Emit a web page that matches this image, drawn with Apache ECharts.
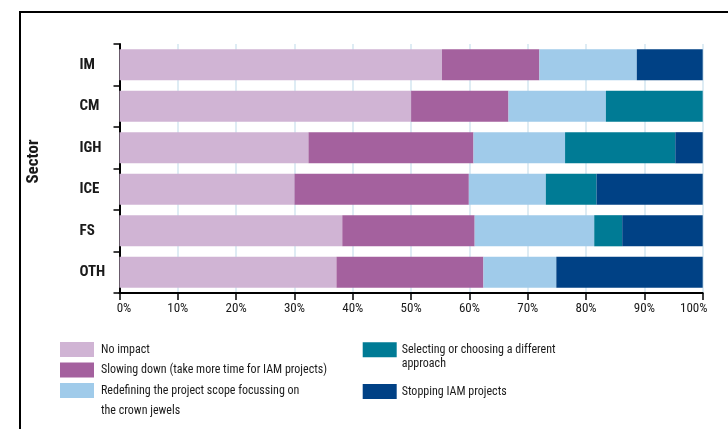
<!DOCTYPE html>
<html>
<head>
<meta charset="utf-8">
<style>
  html, body { margin: 0; padding: 0; background: #ffffff; }
  #chart { width: 728px; height: 429px; }
</style>
<script src="https://cdn.jsdelivr.net/npm/echarts@6/dist/echarts.min.js"></script>
</head>
<body>
<div id="chart"></div>
<script>
// Sectors, top to bottom
const categories = ['IM', 'CM', 'IGH', 'ICE', 'FS', 'OTH'];

// Share of respondents per reaction (%)
const noImpact    = [55.3, 50.0, 32.4, 30.0, 38.2, 37.2];
const slowingDown = [16.7, 16.7, 28.3, 29.9, 22.7, 25.2];
const redefining  = [16.7, 16.7, 15.7, 13.2, 20.5, 12.5];
const selecting   = [0,    16.6, 18.9,  8.7,  4.8,  0  ];
const stopping    = [11.3,  0,    4.7, 18.2, 13.8, 25.1];

const tickLabels = ['0%', '10%', '20%', '30%', '40%', '50%', '60%', '70%', '80%', '90%', '100%'];

const seriesNames = [
  'No impact',
  'Slowing down (take more time for IAM projects)',
  'Redefining the project scope focussing on the crown jewels',
  'Selecting or choosing a different approach',
  'Stopping IAM projects'
];
const seriesColors = ['#d0b4d4', '#a4619e', '#a0cbea', '#007b95', '#004185'];
const seriesValues = [noImpact, slowingDown, redefining, selecting, stopping];

const FONT = '"Roboto Condensed", "DejaVu Sans Condensed", sans-serif';
const INK = '#1a1a1a';

const chart = echarts.init(document.getElementById('chart'), null, { renderer: 'canvas' });

const legendText = { fontFamily: FONT, fontSize: 12, color: INK };

const option = {
  animation: false,
  backgroundColor: '#ffffff',
  grid: { left: 119.5, right: 25.3, top: 44, bottom: 136, containLabel: false },
  xAxis: {
    type: 'value',
    min: 0,
    max: 100,
    interval: 10,
    axisLine: { show: true, lineStyle: { color: '#000', width: 2 } },
    axisTick: { show: true, length: 7, lineStyle: { color: '#000', width: 1.5 } },
    axisLabel: {
      margin: 9,
      fontFamily: FONT,
      fontSize: 13,
      color: INK,
      // end labels are nudged inwards so they stay inside the plot width
      formatter: function (v) {
        const i = Math.round(v / 10);
        if (i === 0) return '{first|' + tickLabels[i] + '}';
        if (i === tickLabels.length - 1) return '{last|' + tickLabels[i] + '}';
        return tickLabels[i];
      },
      rich: {
        first: { fontFamily: FONT, fontSize: 13, color: INK, padding: [0, 0, 0, 9] },
        last: { fontFamily: FONT, fontSize: 13, color: INK, padding: [0, 18, 0, 0] }
      }
    },
    splitLine: { show: true, lineStyle: { color: '#d3e6f0', width: 1.5 } }
  },
  yAxis: {
    type: 'category',
    data: categories,
    inverse: true,
    name: 'Sector',
    nameLocation: 'middle',
    nameRotate: 90,
    nameGap: 77,
    nameTextStyle: {
      fontFamily: FONT, fontSize: 17, fontWeight: 'bold', color: INK,
      padding: [0, 0, 0, 14]
    },
    axisLine: { show: true, lineStyle: { color: '#000', width: 2 } },
    axisTick: { show: true, length: 6, lineStyle: { color: '#000', width: 1.5 } },
    axisLabel: {
      align: 'left',
      margin: 40,
      fontFamily: FONT,
      fontSize: 15,
      fontWeight: 'bold',
      color: INK
    },
    splitLine: { show: false }
  },
  legend: [
    {
      data: [seriesNames[0], seriesNames[1]],
      orient: 'vertical',
      left: 60, top: 342,
      padding: 0,
      itemWidth: 34, itemHeight: 15, itemGap: 5.5,
      icon: 'rect',
      textStyle: Object.assign({ lineHeight: 15, padding: [0, 0, 0, 2] }, legendText)
    },
    {
      data: [seriesNames[2]],
      left: 60, top: 360.5,
      padding: 0,
      itemWidth: 34, itemHeight: 15,
      icon: 'rect',
      formatter: function () { return '\nRedefining the project scope focussing on\nthe crown jewels'; },
      textStyle: Object.assign({ lineHeight: 20, padding: [0, 0, 0, 2] }, legendText)
    },
    {
      data: [seriesNames[3]],
      left: 362.7, top: 327.9,
      padding: 0,
      itemWidth: 34, itemHeight: 15,
      icon: 'rect',
      formatter: function () { return '\nSelecting or choosing a different\napproach'; },
      textStyle: Object.assign({ lineHeight: 14.6 }, legendText)
    },
    {
      data: [seriesNames[4]],
      left: 362.7, top: 384,
      padding: 0,
      itemWidth: 34, itemHeight: 15,
      icon: 'rect',
      textStyle: Object.assign({ lineHeight: 15 }, legendText)
    }
  ],
  series: seriesNames.map(function (name, i) {
    return {
      name: name,
      type: 'bar',
      stack: 'total',
      barCategoryGap: '25%',
      itemStyle: { color: seriesColors[i] },
      emphasis: { disabled: true },
      data: seriesValues[i].map(function (v) { return v === 0 ? '-' : v; })
    };
  }),
  graphic: [
    {
      type: 'polyline',
      silent: true,
      shape: { points: [[20, 429], [20, 12], [728, 12]] },
      style: { stroke: '#000', lineWidth: 2, fill: null }
    }
  ]
};

chart.setOption(option);
</script>
</body>
</html>
